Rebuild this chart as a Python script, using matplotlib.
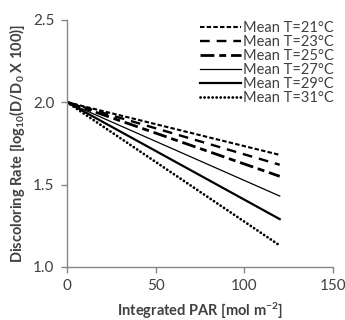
import matplotlib
matplotlib.use("Agg")
import matplotlib.pyplot as plt

# integrated PAR (mol m-2) and modelled discoloring rate per mean temperature
par = [0, 120]
rate_21 = [2.0, 1.68]
rate_23 = [2.0, 1.62]
rate_25 = [2.0, 1.55]
rate_27 = [2.0, 1.43]
rate_29 = [2.0, 1.29]
rate_31 = [2.0, 1.13]

labels = ["Mean T=21\u00b0C", "Mean T=23\u00b0C", "Mean T=25\u00b0C",
          "Mean T=27\u00b0C", "Mean T=29\u00b0C", "Mean T=31\u00b0C"]

plt.rcParams["font.family"] = ["Lato", "DejaVu Sans"]
plt.rcParams["mathtext.fontset"] = "custom"
plt.rcParams["mathtext.rm"] = "Lato:bold"
plt.rcParams["mathtext.bf"] = "Lato:bold"
plt.rcParams["mathtext.default"] = "rm"
plt.rcParams["lines.scale_dashes"] = False

fig = plt.figure(figsize=(3.45, 3.2), dpi=100)
ax = fig.add_axes([0.194, 0.166, 0.771, 0.772])

grey = "#404040"
ax.plot(par, rate_21, color="black", lw=1.5, dashes=(3.2, 1.6), label=labels[0])
ax.plot(par, rate_23, color="black", lw=1.7, dashes=(7, 5), label=labels[1])
ax.plot(par, rate_25, color="black", lw=2.0, dashes=(10, 3.5, 5, 3.5), label=labels[2])
ax.plot(par, rate_27, color="black", lw=0.9, label=labels[3])
ax.plot(par, rate_29, color="black", lw=1.6, label=labels[4])
ax.plot(par, rate_31, color="black", lw=2.0, linestyle=(0, (0.1, 2.8)),
        dash_capstyle="round", label=labels[5])

ax.set_xlim(0, 150)
ax.set_ylim(1.0, 2.5)
ax.set_xticks([0, 50, 100, 150])
ax.set_yticks([1.0, 1.5, 2.0, 2.5])
ax.yaxis.set_major_formatter(matplotlib.ticker.FormatStrFormatter("%.1f"))

for side in ["top", "right"]:
    ax.spines[side].set_visible(False)
for side in ["left", "bottom"]:
    ax.spines[side].set_color("#868686")
    ax.spines[side].set_linewidth(1.0)
ax.tick_params(direction="out", length=4, width=1, color="#868686",
               labelcolor=grey, labelsize=11, pad=5)

ax.set_xlabel("Integrated PAR [mol m$^{-2}$]", fontsize=10.5, fontweight="bold",
              color=grey, labelpad=5)
ax.set_ylabel("Discoloring Rate [log$_{10}$(D/D$_{0}$ X 100)]", fontsize=10.5,
              fontweight="bold", color=grey, labelpad=4)

leg = ax.legend(loc="upper right", bbox_to_anchor=(1.035, 1.03), frameon=False,
                fontsize=10.5, handlelength=2.8, handletextpad=0.1,
                labelspacing=0.0, borderaxespad=0.2)
for t in leg.get_texts():
    t.set_color(grey)

fig.savefig("out.png", dpi=100)
